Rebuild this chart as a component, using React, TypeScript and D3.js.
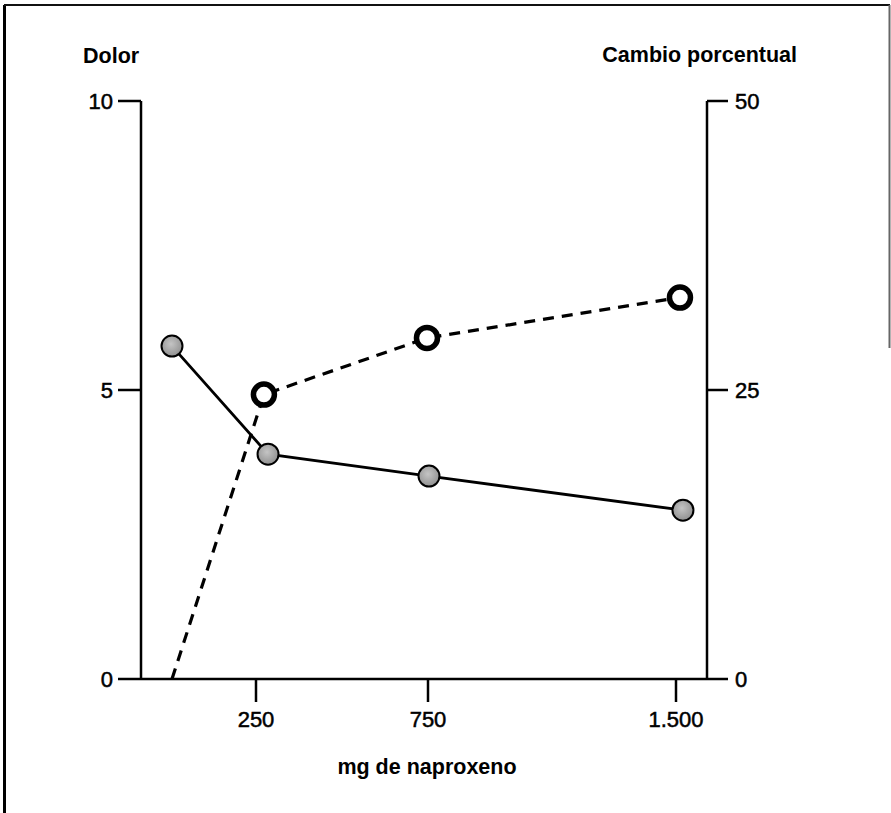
import React from "react";
import * as d3 from "d3";

// Category ticks on the x axis (mg de naproxeno)
const doseTicks = [250, 750, 1500];
const doseTickLabels = ["250", "750", "1.500"];

// Dolor series (left axis, 0-10), dose values
const dolorDose = [0, 285, 753, 1521];
const dolorValues = [5.76, 3.89, 3.51, 2.92];

// Cambio porcentual series (right axis, 0-50)
const cambioDose = [0, 273, 747, 1512];
const cambioValues = [0, 24.6, 29.5, 33.0];

const leftTicks = [0, 5, 10];
const rightTicks = [0, 25, 50];

const W = 891;
const H = 813;
const FONT = "'Liberation Sans', Arial, Helvetica, sans-serif";

export default function App() {
  const axLeft = 141;
  const axRight = 707;
  const axTop = 101;
  const axBottom = 679;

  const x = d3
    .scaleLinear()
    .domain([0, 250, 750, 1500])
    .range([172, 256, 428, 676]);
  const yL = d3.scaleLinear().domain([0, 10]).range([axBottom, axTop]);
  const yR = d3.scaleLinear().domain([0, 50]).range([axBottom, axTop]);

  const dolorPts = dolorDose.map((d, i) => [x(d), yL(dolorValues[i])] as [number, number]);
  const cambioPts = cambioDose.map((d, i) => [x(d), yR(cambioValues[i])] as [number, number]);
  const line = d3.line();

  return (
    <svg
      width={W}
      height={H}
      style={{ position: "absolute", left: 0, top: 0, display: "block", background: "#fff" }}
    >
      <defs>
        <radialGradient id="grey" cx="45%" cy="40%" r="65%">
          <stop offset="0%" stopColor="#c4c4c4" />
          <stop offset="100%" stopColor="#8c8c8c" />
        </radialGradient>
      </defs>
      {/* frame */}
      <line x1={4.5} y1={5} x2={4.5} y2={H} stroke="#000" strokeWidth={3} />
      <line x1={4} y1={5} x2={890} y2={5} stroke="#111" strokeWidth={2} />
      <line x1={889.5} y1={5} x2={889.5} y2={348} stroke="#666" strokeWidth={2} />

      {/* axes */}
      <g stroke="#000" strokeWidth={2.5} fill="none">
        <line x1={axLeft} y1={axTop} x2={axLeft} y2={axBottom} />
        <line x1={axRight} y1={axTop} x2={axRight} y2={axBottom} />
        <line x1={axLeft} y1={axBottom} x2={axRight} y2={axBottom} />
        {leftTicks.map((t) => (
          <line key={"l" + t} x1={118} y1={yL(t)} x2={axLeft} y2={yL(t)} />
        ))}
        {rightTicks.map((t) => (
          <line key={"r" + t} x1={axRight} y1={yR(t)} x2={728} y2={yR(t)} />
        ))}
        {doseTicks.map((t) => (
          <line key={"b" + t} x1={x(t)} y1={axBottom} x2={x(t)} y2={702} />
        ))}
      </g>

      <g fontFamily={FONT} fontSize={22} fill="#000" stroke="#000" strokeWidth={0.5}>
        {leftTicks.map((t) => (
          <text key={"lt" + t} x={113} y={yL(t) + 8} textAnchor="end">
            {t}
          </text>
        ))}
        {rightTicks.map((t) => (
          <text key={"rt" + t} x={735} y={yR(t) + 8} textAnchor="start">
            {t}
          </text>
        ))}
        {doseTicks.map((t, i) => (
          <text key={"bt" + t} x={x(t)} y={727} textAnchor="middle">
            {doseTickLabels[i]}
          </text>
        ))}
      </g>

      <g fontFamily={FONT} fontSize={21.5} fontWeight="bold" fill="#000">
        <text x={83} y={63}>Dolor</text>
        <text x={797} y={62} textAnchor="end">Cambio porcentual</text>
        <text x={427} y={774} textAnchor="middle">mg de naproxeno</text>
      </g>

      {/* series lines */}
      <path d={line(cambioPts) || ""} fill="none" stroke="#000" strokeWidth={3.2} strokeDasharray="11 8" />
      <path d={line(dolorPts) || ""} fill="none" stroke="#000" strokeWidth={2.8} />

      {/* markers */}
      {dolorPts.map((p, i) => (
        <circle key={"dp" + i} cx={p[0]} cy={p[1]} r={10.5} fill="url(#grey)" stroke="#000" strokeWidth={2} />
      ))}
      {cambioPts.slice(1).map((p, i) => (
        <circle key={"cp" + i} cx={p[0]} cy={p[1]} r={10.5} fill="#fff" stroke="#000" strokeWidth={5.5} />
      ))}
    </svg>
  );
}
